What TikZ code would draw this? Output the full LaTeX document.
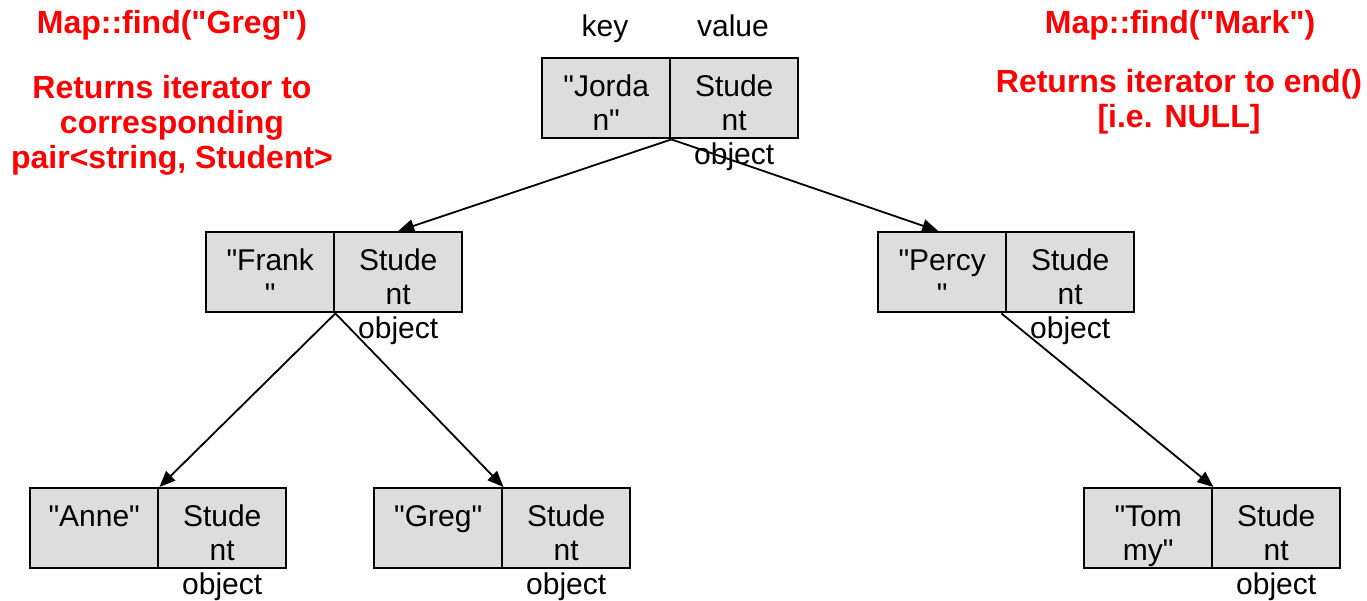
\documentclass[tikz,border=0pt]{standalone}
\usepackage{fontspec}
\setmainfont{Liberation Sans}[Ligatures=TeXOff]
\usetikzlibrary{arrows.meta}
\definecolor{cellgray}{HTML}{DDDDDD}
\definecolor{notered}{HTML}{FF0000}
\newcommand\firstline{\rule{0pt}{24pt}}
\tikzset{
  half/.style={draw=black, line width=2.4pt, fill=cellgray, minimum width=128pt,
    minimum height=80pt, inner sep=0pt, anchor=north west},
  celltext/.style={anchor=north, inner sep=0pt, align=center,
    font=\fontsize{30pt}{34pt}\selectfont},
  heading/.style={anchor=north, inner sep=0pt, align=center,
    font=\fontsize{30pt}{34pt}\selectfont},
  note/.style={anchor=north, inner sep=0pt, align=center, text=notered,
    font=\fontsize{32pt}{35pt}\selectfont\bfseries},
  link/.style={draw=black, line width=1.8pt, -{Triangle[length=16pt,width=13pt]}}
}
\begin{document}
\begin{tikzpicture}[x=1pt, y=-1pt]
\useasboundingbox (0,0) rectangle (1367,600);

% column headings
\node[heading] (hkey) at (605,12) {\firstline key};
\node[heading] (hval) at (733,12) {\firstline value};

% root pair
\node[half] (jk) at (541,57) {};
\node[half] (jv) at (669,57) {};
\node[celltext] (jkt) at ([yshift=-15pt]jk.north) {\firstline"Jorda\\n"};
\node[celltext] (jvt) at ([yshift=-15pt]jv.north) {\firstline Stude\\nt\\object};

% second level
\node[half] (fk) at (205,231) {};
\node[half] (fv) at (333,231) {};
\node[celltext] (fkt) at ([yshift=-15pt]fk.north) {\firstline"Frank\\"};
\node[celltext] (fvt) at ([yshift=-15pt]fv.north) {\firstline Stude\\nt\\object};

\node[half] (pk) at (877,231) {};
\node[half] (pv) at (1005,231) {};
\node[celltext] (pkt) at ([yshift=-15pt]pk.north) {\firstline"Percy\\"};
\node[celltext] (pvt) at ([yshift=-15pt]pv.north) {\firstline Stude\\nt\\object};

% leaves
\node[half] (ak) at (29,487) {};
\node[half] (av) at (157,487) {};
\node[celltext] (akt) at ([yshift=-15pt]ak.north) {\firstline"Anne"};
\node[celltext] (avt) at ([yshift=-15pt]av.north) {\firstline Stude\\nt\\object};

\node[half] (gk) at (373,487) {};
\node[half] (gv) at (501,487) {};
\node[celltext] (gkt) at ([yshift=-15pt]gk.north) {\firstline"Greg"};
\node[celltext] (gvt) at ([yshift=-15pt]gv.north) {\firstline Stude\\nt\\object};

\node[half] (tk) at (1083,487) {};
\node[half] (tv) at (1211,487) {};
\node[celltext] (tkt) at ([yshift=-15pt]tk.north) {\firstline"Tom\\my"};
\node[celltext] (tvt) at ([yshift=-15pt]tv.north) {\firstline Stude\\nt\\object};

% annotations
\node[note] (lf) at (172,9) {\firstline Map::find("Greg")};
\node[note] (lr) at (172,74) {\firstline Returns iterator to\\corresponding\\pair<string, Student>};
\node[note] (rf) at (1180,9) {\firstline Map::find("Mark")};
\node[note] (rr) at (1179,68) {\firstline Returns iterator to end()\\{}[i.e. NULL]};

% tree links
\draw[link] (jk.south east) -- (fv.north);
\draw[link] (jk.south east) -- ([xshift=-4pt]pk.north);
\draw[link] (fk.south east) -- (ak.north east);
\draw[link] (fk.south east) -- (gk.north east);
\draw[link] ([xshift=-6pt]pk.south east) -- (tk.north east);
\end{tikzpicture}
\end{document}
